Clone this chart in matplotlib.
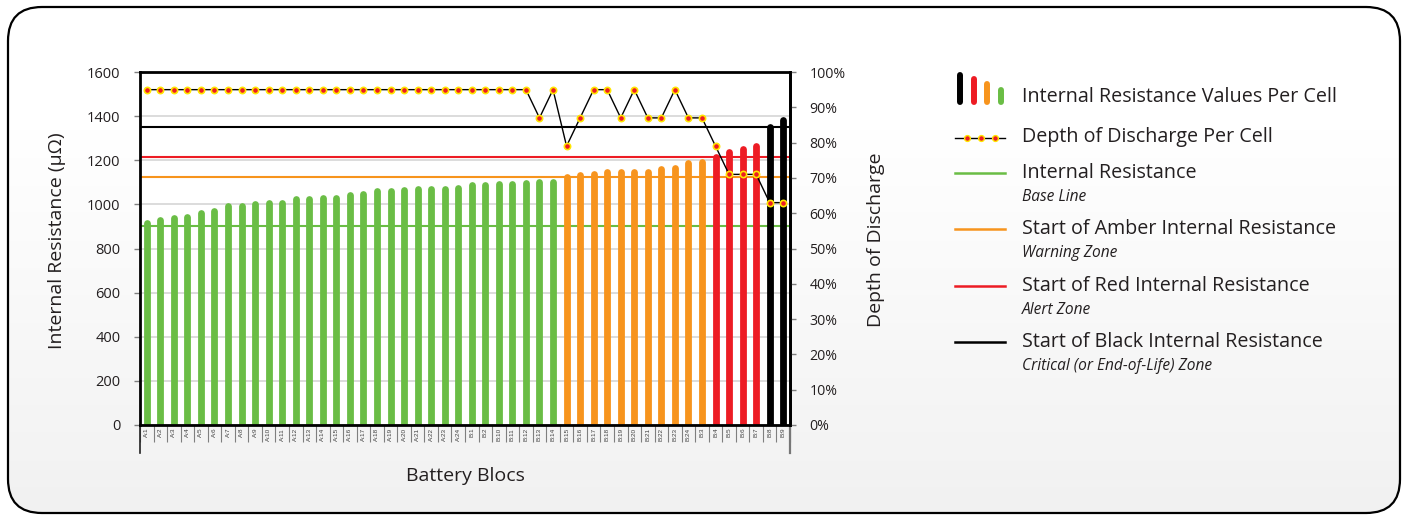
import numpy as np
import matplotlib
matplotlib.use('Agg')
import matplotlib.pyplot as plt
from matplotlib.patches import FancyBboxPatch
from matplotlib.lines import Line2D

# ---------------- data ----------------
blocs = ['A:%d' % i for i in range(1, 25)] + ['B:1', 'B:2'] + \
        ['B:%d' % i for i in range(10, 25)] + ['B:%d' % i for i in range(3, 10)]

resistance = [932, 944, 952, 956, 975, 985, 1006, 1008, 1017, 1021, 1020, 1040,
              1040, 1044, 1046, 1059, 1062, 1074, 1074, 1080, 1083, 1087, 1087, 1089,
              1101, 1105, 1108, 1109, 1114, 1115, 1115, 1139, 1150, 1151, 1160, 1160,
              1160, 1160, 1177, 1179, 1203, 1209, 1232, 1251, 1265, 1282, 1368, 1398]

dod = [95] * 23 + [95, 95, 95, 95, 95, 95, 87, 95, 79, 87, 95, 95, 87, 95, 87, 87,
                   95, 87, 87, 79, 71, 71, 71, 63, 63]

base_line = 900
amber_start = 1125
red_start = 1215
black_start = 1350

y_ticks = [0, 200, 400, 600, 800, 1000, 1200, 1400, 1600]
pct_ticks = [0, 10, 20, 30, 40, 50, 60, 70, 80, 90, 100]

GREEN = '#6ABD45'
AMBER = '#F7941D'
RED = '#ED1C24'
BLACK = '#000000'
TXT = '#231F20'


def zone_color(v):
    if v >= black_start:
        return BLACK
    if v >= red_start:
        return RED
    if v >= amber_start:
        return AMBER
    return GREEN


colors = [zone_color(v) for v in resistance]

W, H = 1407, 517
fig = plt.figure(figsize=(W / 100, H / 100), dpi=100)

# ---------------- background panel ----------------
bg = fig.add_axes([0, 0, 1, 1])
bg.set_xlim(0, W)
bg.set_ylim(H, 0)
bg.axis('off')
bg.set_zorder(0)
grad = np.linspace(0, 1, 256)[:, None]
grad = np.clip((grad - 0.25) / 0.75, 0, 1)
img = bg.imshow(grad, cmap=matplotlib.colors.LinearSegmentedColormap.from_list(
    'g', ['#ffffff', '#f1f1f1']), extent=[0, W, H, 0], aspect='auto', zorder=0)
panel = FancyBboxPatch((8, 7), 1392, 506, boxstyle='round,pad=0,rounding_size=34',
                       facecolor='none', edgecolor='black', lw=1.6, zorder=2)
bg.add_patch(panel)
img.set_clip_path(panel)

# ---------------- main axes ----------------
ax = fig.add_axes([140 / W, (H - 425) / H, 650 / W, 353 / H])
ax.set_zorder(1)
ax.set_facecolor('white')
x = np.arange(len(blocs))
ax.set_xlim(-0.5, len(blocs) - 0.5)
ax.set_ylim(0, 1600)

ax.set_yticks(y_ticks)
ax.yaxis.grid(True, color='#d9d9d9', lw=1.3)
ax.set_axisbelow(True)

for val, col in [(base_line, GREEN), (amber_start, AMBER), (red_start, RED), (black_start, BLACK)]:
    ax.axhline(val, color=col, lw=1.5, zorder=1.5)

# bars drawn as round-capped thick lines; shorten by cap radius so top = value
bar_lw = 4.9
ax_h_px = 353
r_data = (bar_lw * 100 / 72 / 2) * 1600 / ax_h_px
tops = np.array(resistance) - r_data
lc = ax.vlines(x, 0, tops, colors=colors, lw=bar_lw, zorder=2)
lc.set_capstyle('round')

ax.set_xticks(x)
ax.set_xticklabels(blocs, rotation=90, fontsize=4.6, color='#404040',
                   family=['Liberation Sans'])
ax.set_xticks(np.arange(-0.5, len(blocs)), minor=True)
ax.tick_params(axis='x', which='major', length=0, pad=2)
ax.tick_params(axis='x', which='minor', length=12.5, color='#7f7f7f', width=0.8)

ax.tick_params(axis='y', length=4, color='#7f7f7f', width=1, pad=10,
               labelsize=10.5, labelcolor=TXT)
for lab in ax.get_yticklabels():
    lab.set_family(['Open Sans'])

for s in ['left', 'bottom', 'top', 'right']:
    ax.spines[s].set_color('black')
    ax.spines[s].set_linewidth(2)

# axis extensions below the plot area
ext = 28 / ax_h_px
ax.add_line(Line2D([0, 0], [0, -ext], transform=ax.transAxes, color='#222222',
                   lw=1.2, clip_on=False))
ax.add_line(Line2D([1, 1], [0, -ext], transform=ax.transAxes, color='#777777',
                   lw=1.6, clip_on=False))

# ---------------- secondary axis ----------------
ax2 = ax.twinx()
ax2.set_ylim(0, 100)
ax2.set_yticks(pct_ticks)
ax2.set_yticklabels(['%d%%' % p for p in pct_ticks], family=['Open Sans'],
                    fontsize=10.2, color=TXT)
ax2.tick_params(axis='y', length=4, color='#7f7f7f', width=1, pad=10)
for s in ['left', 'bottom', 'top', 'right']:
    ax2.spines[s].set_visible(False)
ax2.spines['right'].set_visible(True)
ax2.spines['right'].set_color('black')
ax2.spines['right'].set_linewidth(2)
ax2.plot(x, dod, color='black', lw=1.0, marker='o', ms=4.5,
         mfc=RED, mec='#FFE600', mew=1.2, zorder=5)

# ---------------- axis titles ----------------
fig.text(57 / W, 1 - 241 / H, 'Internal Resistance (\u00b5\u03a9)', rotation=90,
         ha='center', va='center', fontsize=14, family=['Open Sans'], color=TXT)
fig.text(876 / W, 1 - 240 / H, 'Depth of Discharge', rotation=90,
         ha='center', va='center', fontsize=14, family=['Open Sans'], color=TXT)
fig.text(465 / W, 1 - 476 / H, 'Battery Blocs', ha='center', va='center',
         fontsize=14, family=['Open Sans'], color=TXT)

# ---------------- legend ----------------
main_fs = 14.2
sub_fs = 11.2
tx = 1022

# mini bars icon
for bx, top, col in [(960, 72, BLACK), (974, 76, RED), (987, 81, AMBER), (1001, 87, GREEN)]:
    bg.add_line(Line2D([bx, bx], [104 - 2, top + 3], color=col, lw=4.3,
                       solid_capstyle='round', zorder=3))
bg.text(tx, 97, 'Internal Resistance Values Per Cell', fontsize=main_fs,
        family=['Open Sans'], color=TXT, va='center', zorder=3)

# DoD icon
bg.add_line(Line2D([955, 1005], [137.5, 137.5], color='black', lw=1.0, zorder=3))
bg.add_line(Line2D([967, 981, 995], [137.5] * 3, color='none', marker='o', ms=4.2,
                   mfc=RED, mec='#FFE600', mew=1.0, zorder=4))
bg.text(tx, 137, 'Depth of Discharge Per Cell', fontsize=main_fs,
        family=['Open Sans'], color=TXT, va='center', zorder=3)

entries = [
    (173, GREEN, 'Internal Resistance', 'Base Line'),
    (229, AMBER, 'Start of Amber Internal Resistance', 'Warning Zone'),
    (286, RED, 'Start of Red Internal Resistance', 'Alert Zone'),
    (342, BLACK, 'Start of Black Internal Resistance', 'Critical (or End-of-Life) Zone'),
]
for y, col, main, sub in entries:
    bg.add_line(Line2D([955, 1005], [y, y], color=col, lw=1.8, zorder=3))
    bg.text(tx, y, main, fontsize=main_fs, family=['Open Sans'], color=TXT,
            va='center', zorder=3)
    bg.text(tx, y + 24, sub, fontsize=sub_fs, family=['Open Sans'], style='italic',
            color=TXT, va='center', zorder=3)

fig.savefig('out.png', dpi=100)
